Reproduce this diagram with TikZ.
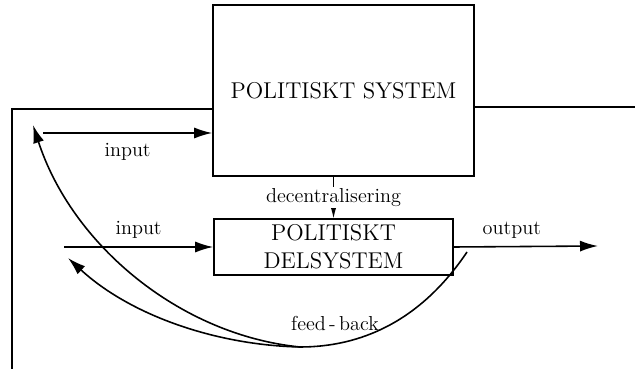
\documentclass[tikz,border=0pt]{standalone}
\usepackage{tikz}
\usetikzlibrary{arrows.meta,calc,positioning}

\begin{document}
\begin{tikzpicture}[x=0.2mm,y=-0.2mm,font=\fontsize{11.5}{13}\selectfont,
      box/.style={draw,line width=0.9pt,align=center,inner sep=0pt,font=\fontsize{13}{16}\selectfont},
      a/.style={-{Latex[length=3.6mm,width=2.2mm]},line width=0.9pt},
      ln/.style={line width=0.9pt}]
      \useasboundingbox (0,0) rectangle (635,369);
      \node[box,minimum width=5.22cm,minimum height=3.42cm] (sys) at (343.5,90.5) {POLITISKT SYSTEM};
      \node[box,minimum width=4.78cm,minimum height=1.12cm] (sub) at (333.5,247) {POLITISKT\\DELSYSTEM};
      % frame round the system
      \coordinate (fl) at (12,109); \coordinate (fb) at (12,369);
      \coordinate (fr) at (635,107);
      \draw[ln] (fl -| sys.west)--(fl)--(fb);
      \draw[ln] (fr -| sys.east)--(fr);
      % inputs, output, decentralisering
      \coordinate (in1) at (43,133); \coordinate (in2) at (64,247); \coordinate (out) at (598,246);
      \draw[a] (in1)--(in1 -| sys.west) node[midway,below=2pt] (li1) {input};
      \draw[a] (in2)--(sub.west) node[midway,above=1pt] (li2) {input};
      \draw[a] (sub.east)--(out) node[midway,above=1pt,xshift=-8pt] (lo) {output};
      \draw[a] (sub.north |- sys.south)--(sub.north) node[midway,fill=white,inner sep=1pt] (ld) {decentralisering};
      % feed-back
      \coordinate (fbs) at (467,252); \coordinate (fbm) at (300,347);
      \coordinate (t2) at (68,258); \coordinate (t1) at (33,125);
      \draw[ln] (fbs) .. controls (420,322) and (360,347) .. (fbm);
      \draw[a] (fbm) .. controls (215,345) and (130,315) .. (t2);
      \draw[a] (fbm) .. controls (180,335) and (72,245) .. (t1);
      \node (lf) at (335,323) {feed\,-\,back};
    \end{tikzpicture}
\end{document}
